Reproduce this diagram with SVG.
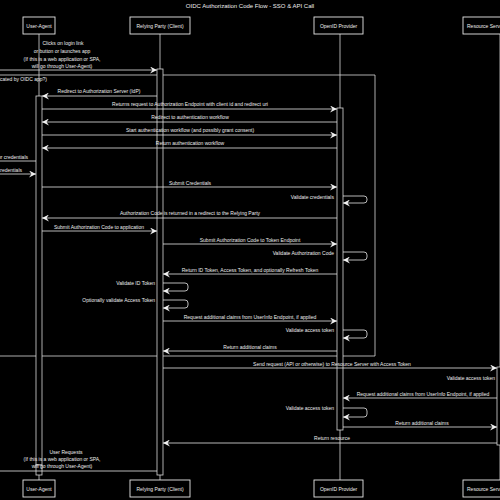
<svg xmlns="http://www.w3.org/2000/svg" width="500" height="500" viewBox="0 0 500 500">
<defs>
<marker id="ah" viewBox="0 0 7 7" refX="7" refY="3.5" markerWidth="7" markerHeight="7" markerUnits="userSpaceOnUse" orient="auto">
<path d="M0,0 L7,3.5 L0,7 L2.5,3.5 z" fill="#f2f2f2"/>
</marker>
<style>
text{font-family:"Liberation Sans",Arial,sans-serif;font-size:5px;fill:#eeeeee}
.t{font-size:6px}
.m{text-anchor:middle}
.e{text-anchor:end}
.box{fill:#000;stroke:#e6e6e6;stroke-width:0.9}
.life{stroke:#d8d8d8;stroke-width:0.8;fill:none}
.act{fill:#000;stroke:#d8d8d8;stroke-width:0.8}
.msg{stroke:#e6e6e6;stroke-width:0.8;fill:none}
.arr{stroke:#e6e6e6;stroke-width:0.8;fill:none;marker-end:url(#ah)}
.frame{stroke:#d8d8d8;stroke-width:0.8;fill:none}
</style>
</defs>
<rect width="500" height="500" fill="#000"/>
<text class="t m" x="250" y="8">OIDC Authorization Code Flow - SSO &amp; API Call</text>

<g id="lifelines">
<line class="life" x1="39" y1="34" x2="39" y2="480"/>
<line class="life" x1="160" y1="34" x2="160" y2="480"/>
<line class="life" x1="340" y1="34" x2="340" y2="480"/>
<line class="life" x1="500" y1="34" x2="500" y2="480"/>
</g>

<g id="frame">
<path class="frame" d="M-5,75 L375,75 L375,356 L-5,356"/>
<text class="e" x="47" y="81">(Not authenticated by OIDC app?)</text>
</g>

<g id="activations">
<rect class="act" x="36" y="96" width="6" height="369"/>
<rect class="act" x="36" y="465" width="6" height="10"/>
<rect class="act" x="157" y="69" width="6" height="406"/>
<rect class="act" x="337" y="108" width="6" height="322"/>
<rect class="act" x="497" y="367" width="6" height="78"/>
</g>

<g id="user-agent">
<rect class="box" x="23" y="17" width="32" height="17"/>
<text class="m" x="39" y="27.5">User-Agent</text>
<rect class="box" x="23" y="480" width="32" height="17"/>
<text class="m" x="39" y="490.5">User-Agent</text>
</g>
<g id="relying-party">
<rect class="box" x="130" y="17" width="60" height="17"/>
<text class="m" x="160" y="27.5">Relying Party (Client)</text>
<rect class="box" x="130" y="480" width="60" height="17"/>
<text class="m" x="160" y="490.5">Relying Party (Client)</text>
</g>
<g id="openid-provider">
<rect class="box" x="314" y="17" width="49" height="17"/>
<text class="m" x="338.5" y="27.5">OpenID Provider</text>
<rect class="box" x="314" y="480" width="49" height="17"/>
<text class="m" x="338.5" y="490.5">OpenID Provider</text>
</g>
<g id="resource-server">
<rect class="box" x="463" y="17" width="60" height="17"/>
<text x="467" y="27.5">Resource Server</text>
<rect class="box" x="463" y="480" width="60" height="17"/>
<text x="467" y="490.5">Resource Server</text>
</g>

<g id="connectors">
<line class="arr" x1="-5" y1="70" x2="157" y2="70"/>
<line class="arr" x1="157" y1="96" x2="42" y2="96"/>
<line class="arr" x1="42" y1="109" x2="337" y2="109"/>
<line class="arr" x1="337" y1="122" x2="42" y2="122"/>
<line class="arr" x1="42" y1="135" x2="337" y2="135"/>
<line class="arr" x1="337" y1="148" x2="42" y2="148"/>
<line class="msg" x1="36" y1="161" x2="-5" y2="161"/>
<line class="arr" x1="-5" y1="174" x2="36" y2="174"/>
<line class="arr" x1="42" y1="187" x2="337" y2="187"/>
<path class="arr" d="M343,196 L364,196 Q367,196 367,199 L367,200 Q367,203 364,203 L343,203"/>
<line class="arr" x1="337" y1="218" x2="42" y2="218"/>
<line class="arr" x1="42" y1="231" x2="157" y2="231"/>
<line class="arr" x1="163" y1="244" x2="337" y2="244"/>
<path class="arr" d="M343,252 L364,252 Q367,252 367,255 L367,257 Q367,260 364,260 L343,260"/>
<line class="arr" x1="337" y1="274" x2="163" y2="274"/>
<path class="arr" d="M163,283 L185,283 Q188,283 188,286 L188,288 Q188,291 185,291 L163,291"/>
<path class="arr" d="M163,300 L185,300 Q188,300 188,303 L188,305 Q188,308 185,308 L163,308"/>
<line class="arr" x1="163" y1="321" x2="337" y2="321"/>
<path class="arr" d="M343,330 L364,330 Q367,330 367,333 L367,335 Q367,338 364,338 L343,338"/>
<line class="arr" x1="337" y1="351" x2="163" y2="351"/>
<line class="arr" x1="163" y1="368" x2="497" y2="368"/>
<line class="arr" x1="497" y1="398" x2="343" y2="398"/>
<path class="arr" d="M343,408 L364,408 Q367,408 367,411 L367,414 Q367,417 364,417 L343,417"/>
<line class="arr" x1="343" y1="427" x2="497" y2="427"/>
<line class="arr" x1="497" y1="443" x2="163" y2="443"/>
<line class="msg" x1="-5" y1="471" x2="157" y2="471"/>
</g>

<g id="labels">
<text class="m" x="63" y="45">Clicks on login link</text>
<text class="m" x="62" y="53">or button or launches app</text>
<text class="m" x="62" y="60.5">(If this is a web application or SPA,</text>
<text class="m" x="62" y="68">will go through User-Agent)</text>
<text class="m" x="99" y="93">Redirect to Authorization Server (IdP)</text>
<text class="m" x="190" y="106">Returns request to Authorization Endpoint with client id and redirect uri</text>
<text class="m" x="190" y="119">Redirect to authentication workflow</text>
<text class="m" x="190" y="132">Start authentication workflow (and possibly grant consent)</text>
<text class="m" x="190" y="145">Return authentication workflow</text>
<text class="e" x="28" y="158.5">Prompt for credentials</text>
<text class="e" x="22" y="171.5">Enter credentials</text>
<text class="m" x="190" y="185">Submit Credentials</text>
<text class="e" x="334" y="198.5">Validate credentials</text>
<text class="m" x="190" y="215">Authorization Code is returned in a redirect to the Relying Party</text>
<text class="m" x="99" y="228.5">Submit Authorization Code to application</text>
<text class="m" x="250" y="241.5">Submit Authorization Code to Token Endpoint</text>
<text class="e" x="334" y="254.5">Validate Authorization Code</text>
<text class="m" x="250" y="271.5">Return ID Token, Access Token, and optionally Refresh Token</text>
<text class="e" x="155" y="284.5">Validate ID Token</text>
<text class="e" x="155" y="301.5">Optionally validate Access Token</text>
<text class="m" x="250" y="318.5">Request additional claims from UserInfo Endpoint, if applied</text>
<text class="e" x="334" y="331.5">Validate access token</text>
<text class="m" x="250" y="348.5">Return additional claims</text>
<text class="m" x="332" y="366">Send request (API or otherwise) to Resource Server with Access Token</text>
<text class="e" x="495" y="379.5">Validate access token</text>
<text class="m" x="423" y="395.5">Request additional claims from UserInfo Endpoint, if applied</text>
<text class="e" x="334" y="409.5">Validate access token</text>
<text class="m" x="422" y="425">Return additional claims</text>
<text class="m" x="332" y="440">Return resource</text>
<text class="m" x="66" y="454">User Requests</text>
<text class="m" x="62" y="461">(If this is a web application or SPA,</text>
<text class="m" x="62" y="468">will go through User-Agent)</text>
</g>
</svg>
